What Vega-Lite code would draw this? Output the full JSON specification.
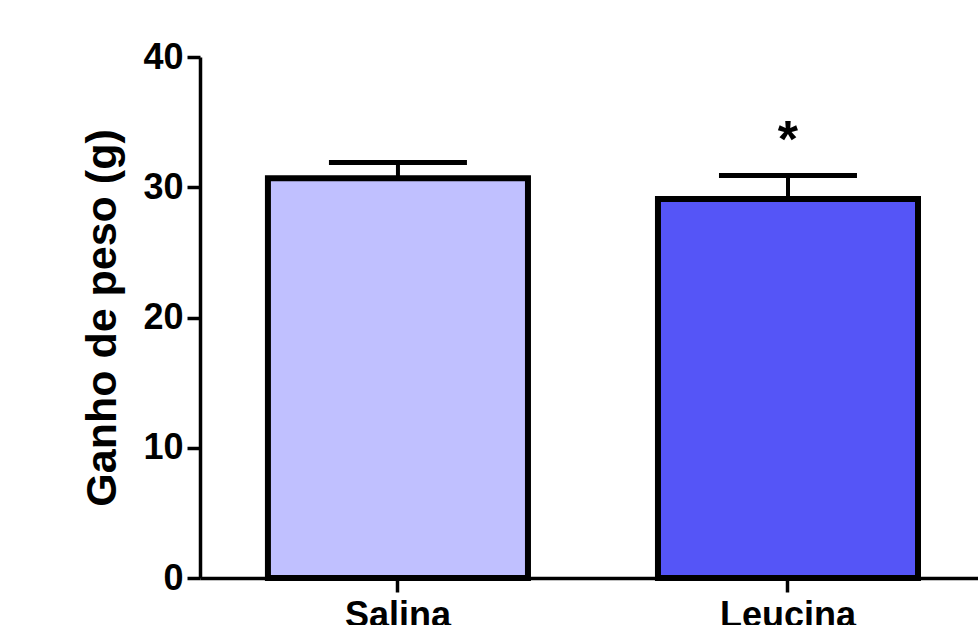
{
  "$schema": "https://vega.github.io/schema/vega-lite/v6.json",
  "autosize": "none",
  "padding": {"left": 200, "top": 57, "right": 0, "bottom": 47},
  "width": 778,
  "height": 521,
  "background": "#ffffff",
  "config": {
    "view": {"stroke": null},
    "font": "Liberation Sans",
    "axis": {
      "domainColor": "black",
      "domainWidth": 3.5,
      "tickColor": "black",
      "tickWidth": 3.5,
      "tickSize": 13,
      "labelFont": "Liberation Sans",
      "labelFontWeight": "bold",
      "labelFontSize": 36,
      "labelColor": "black",
      "titleFont": "Liberation Sans",
      "titleFontWeight": "bold",
      "titleColor": "black",
      "grid": false
    }
  },
  "data": {
    "values": [
      {"grupo": "Salina", "media": 30.7, "upper": 31.9, "sig": ""},
      {"grupo": "Leucina", "media": 29.1, "upper": 30.9, "sig": "*"}
    ]
  },
  "encoding": {
    "x": {
      "field": "grupo",
      "type": "nominal",
      "sort": null,
      "scale": {"paddingInner": 0.3333, "paddingOuter": 0.164, "align": 0.531},
      "axis": {"title": null, "labelAngle": 0, "labelPadding": 6, "tickSize": 14}
    }
  },
  "layer": [
    {
      "mark": {"type": "bar", "stroke": "black", "strokeWidth": 6},
      "encoding": {
        "y": {
          "field": "media",
          "type": "quantitative",
          "scale": {"domain": [0, 40], "nice": false},
          "axis": {"values": [0, 10, 20, 30, 40], "title": "Ganho de peso (g)", "titleFontSize": 43, "titlePadding": 18, "labelPadding": 4}
        },
        "color": {
          "field": "grupo",
          "type": "nominal",
          "scale": {"domain": ["Salina", "Leucina"], "range": ["#c0c0ff", "#5555f7"]},
          "legend": null
        }
      }
    },
    {
      "mark": {"type": "rule", "color": "black", "strokeWidth": 4},
      "encoding": {
        "y": {"field": "media", "type": "quantitative"},
        "y2": {"field": "upper"}
      }
    },
    {
      "mark": {"type": "tick", "color": "black", "size": 138, "thickness": 5, "opacity": 1},
      "encoding": {
        "y": {"field": "upper", "type": "quantitative"}
      }
    },
    {
      "mark": {"type": "text", "fontSize": 52, "fontWeight": "bold", "baseline": "middle", "dy": -35, "color": "black"},
      "encoding": {
        "y": {"field": "upper", "type": "quantitative"},
        "text": {"field": "sig"}
      }
    }
  ]
}
